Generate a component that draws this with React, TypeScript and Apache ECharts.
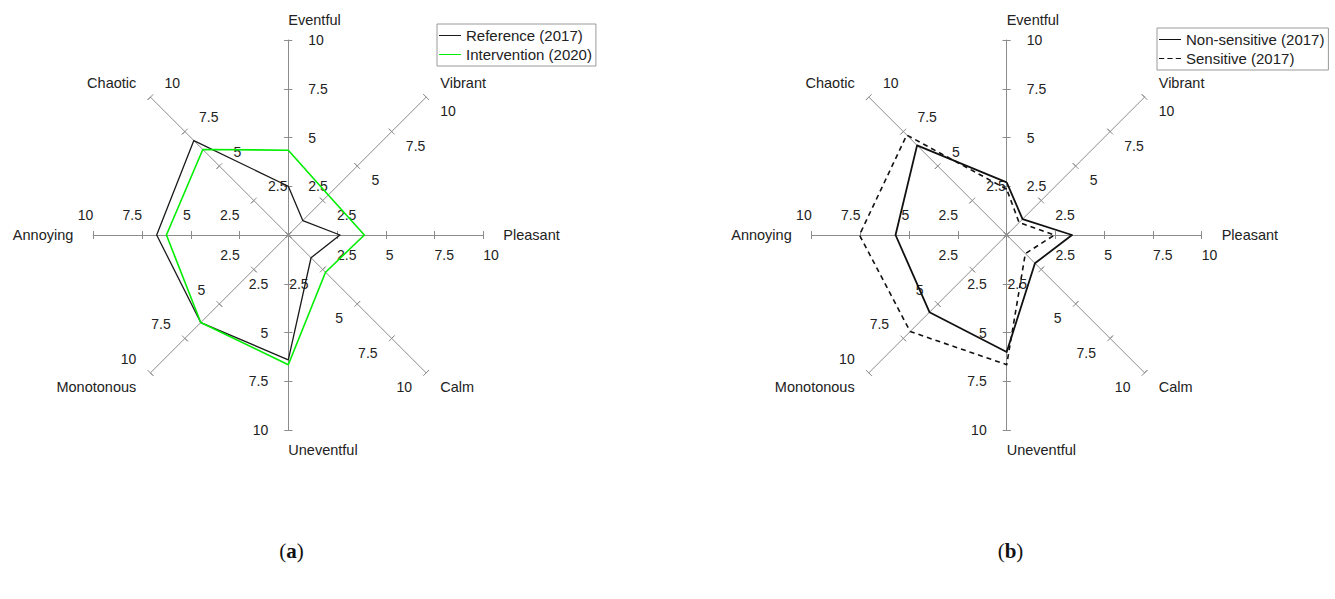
import React, { useEffect, useRef } from 'react';
import * as echarts from 'echarts';

// ---- data ----
const categories = ['Eventful', 'Chaotic', 'Annoying', 'Monotonous', 'Uneventful', 'Calm', 'Pleasant', 'Vibrant'];
const axisMin = 0;
const axisMax = 10;
const axisSplits = 4; // ticks at 2.5, 5, 7.5, 10

const seriesNamesA = ['Reference (2017)', 'Intervention (2020)'];
const referenceValues = [2.5, 6.85, 6.75, 6.35, 6.4, 1.65, 2.65, 1.05];
const interventionValues = [4.35, 6.2, 6.25, 6.35, 6.65, 2.7, 3.9, 2.9];

const seriesNamesB = ['Non-sensitive (2017)', 'Sensitive (2017)'];
const nonSensitiveValues = [2.7, 6.5, 5.7, 5.6, 6.0, 2.05, 3.35, 1.15];
const sensitiveValues = [2.35, 7.25, 7.55, 7.0, 6.65, 1.35, 2.45, 0.9];

const panelLabels = ['a', 'b'];

// ---- styles ----
const FONT = '"Liberation Sans", Arial, Helvetica, sans-serif';
const AXIS_GRAY = '#8c8c8c';
const TEXT = '#222222';
const CENTERS = [288.3, 1006.7];
const CY = 235;
const RADIUS = 195;
const TICK_LEN = 4;

const solidIcon = 'path://M0,0h22v1h-22z';
const dashIcon = 'path://M0,0h5v1h-5z M8,0h5v1h-5z M16,0h5v1h-5z';

function makeIndicators(withStyle: boolean) {
  return categories.map((name, i) => {
    const a = ((90 + (i * 360) / categories.length) * Math.PI) / 180;
    const s = Math.sin(a);
    const c = Math.cos(a);
    let labelAlign = 'left';
    if (s > 0.1) labelAlign = 'left';
    else if (s < -0.1) labelAlign = 'right';
    else labelAlign = c > 0 ? 'left' : 'right';
    const nameAlign = c < -0.1 ? 'right' : 'left';
    const ind: any = { name, min: axisMin, max: axisMax };
    if (withStyle) {
      ind.axisLabel = { align: labelAlign, verticalAlign: 'middle' };
      ind.nameTextStyle = { align: nameAlign, verticalAlign: 'middle' };
    }
    return ind;
  });
}

function tickRadar(cx: number, inside: boolean, length: number) {
  return {
    center: [cx, CY],
    radius: RADIUS,
    startAngle: 90,
    splitNumber: axisSplits,
    shape: 'polygon',
    indicator: makeIndicators(false),
    axisName: { show: false },
    axisLine: { show: false },
    axisTick: { show: true, inside, length, lineStyle: { color: AXIS_GRAY, width: 1 } },
    axisLabel: { show: false },
    splitLine: { show: false },
    splitArea: { show: false },
  };
}

function radarGroup(cx: number) {
  const main = {
    center: [cx, CY],
    radius: RADIUS,
    startAngle: 90,
    splitNumber: axisSplits,
    shape: 'polygon',
    indicator: makeIndicators(true),
    axisName: { show: true, color: TEXT, fontSize: 14.5, fontFamily: FONT },
    axisNameGap: 20,
    axisLine: { show: true, lineStyle: { color: AXIS_GRAY, width: 1 } },
    axisTick: { show: false },
    axisLabel: {
      show: true,
      margin: -20,
      color: TEXT,
      fontSize: 14,
      fontFamily: FONT,
      formatter: (v: number) => (v === 0 ? '' : String(v)),
    },
    splitLine: { show: false },
    splitArea: { show: false },
  };
  // tick marks crossing each axis: one side from each helper radar
  return [main, tickRadar(cx, true, TICK_LEN), tickRadar(cx, false, TICK_LEN), tickRadar(cx, true, -TICK_LEN)];
}

function radarSeries(name: string, values: number[], radarIndex: number, color: string, width: number, type: any) {
  return {
    type: 'radar',
    name,
    radarIndex,
    symbol: 'none',
    silent: true,
    itemStyle: { color },
    lineStyle: { color, width, type },
    data: [{ name, value: values }],
    z: 5,
  };
}

const legendText = { color: TEXT, fontSize: 15, fontFamily: FONT };

const legendBase = {
  orient: 'vertical',
  itemWidth: 22,
  itemHeight: 2,
  itemGap: 4,
  padding: [4, 4, 4, 2],
  borderColor: '#9a9a9a',
  borderWidth: 1,
  selectedMode: false,
  textStyle: legendText,
};

export default function App() {
  const ref = useRef<HTMLDivElement>(null);
  useEffect(() => {
    if (!ref.current) return;
    const chart = echarts.init(ref.current, null, { renderer: 'svg' });
    const option: any = {
      animation: false,
      backgroundColor: '#ffffff',
      radar: [...radarGroup(CENTERS[0]), ...radarGroup(CENTERS[1])],
      legend: [
        {
          ...legendBase,
          left: 437,
          top: 24,
          data: [
            { name: seriesNamesA[0], icon: solidIcon, itemStyle: { color: '#1a1a1a' }, textStyle: legendText },
            { name: seriesNamesA[1], icon: solidIcon, itemStyle: { color: '#00ee00' }, textStyle: legendText },
          ],
        },
        {
          ...legendBase,
          left: 1157,
          top: 28,
          data: [
            { name: seriesNamesB[0], icon: solidIcon, itemStyle: { color: '#111111' }, textStyle: legendText },
            { name: seriesNamesB[1], icon: dashIcon, itemStyle: { color: '#111111' }, textStyle: legendText },
          ],
        },
      ],
      title: panelLabels.map((p, i) => ({
        text: '(' + '{b|' + p + '})',
        left: CENTERS[i] - 14,
        top: 535,
        textStyle: {
          fontFamily: '"Liberation Serif", "Times New Roman", serif',
          fontSize: 21,
          fontWeight: 'normal',
          color: '#111',
          rich: { b: { fontFamily: '"Liberation Serif", "Times New Roman", serif', fontSize: 21, fontWeight: 'bold', color: '#111' } },
        },
      })),
      series: [
        radarSeries(seriesNamesA[0], referenceValues, 0, '#1a1a1a', 1.3, 'solid'),
        radarSeries(seriesNamesA[1], interventionValues, 0, '#00ee00', 1.6, 'solid'),
        radarSeries(seriesNamesB[0], nonSensitiveValues, 4, '#111111', 1.8, 'solid'),
        radarSeries(seriesNamesB[1], sensitiveValues, 4, '#111111', 1.6, [5, 4]),
      ],
    };
    chart.setOption(option);
    return () => chart.dispose();
  }, []);
  return (
    <div
      ref={ref}
      style={{ position: 'absolute', left: 0, top: 0, width: 1335, height: 599, background: '#fff' }}
    />
  );
}
